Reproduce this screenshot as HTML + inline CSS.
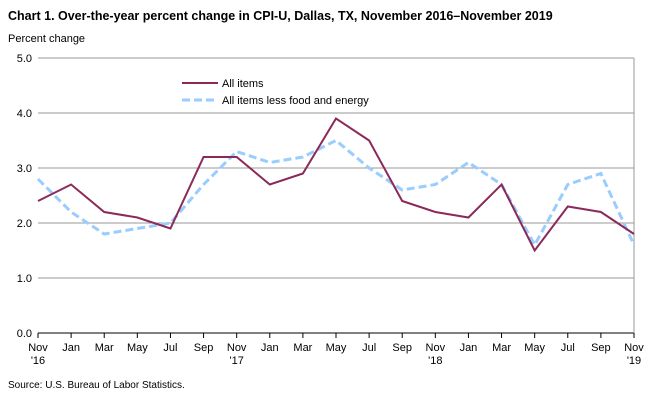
<!DOCTYPE html>
<html><head><meta charset="utf-8"><style>
body{margin:0;background:#fff;font-family:"Liberation Sans",Arial,sans-serif;}
svg text{font-family:"Liberation Sans",Arial,sans-serif;}
</style></head><body>
<svg id="chart" width="653" height="400" xmlns="http://www.w3.org/2000/svg">
<text x="8" y="20" font-size="12.5" font-weight="bold" fill="#000">Chart 1. Over-the-year percent change in CPI-U, Dallas, TX, November 2016–November 2019</text>
<text x="8" y="42" font-size="11" fill="#000">Percent change</text>
<g id="grid"></g><g id="axes"></g><g id="series"></g>
<g>
<line x1="182" y1="83" x2="218" y2="83" stroke="#8B2A5A" stroke-width="2"/>
<text x="222" y="87" font-size="11">All items</text>
<line x1="182" y1="100" x2="218" y2="100" stroke="#99CCFF" stroke-width="3" stroke-dasharray="8,4"/>
<text x="222" y="104" font-size="11">All items less food and energy</text>
</g>
<text x="8" y="388" font-size="10">Source: U.S. Bureau of Labor Statistics.</text>
</svg>
<script>
const months=["Nov","Jan","Mar","May","Jul","Sep","Nov","Jan","Mar","May","Jul","Sep","Nov","Jan","Mar","May","Jul","Sep","Nov"];
const years=["'16","","","","","","'17","","","","","","'18","","","","","","'19"];
const allItems=[2.4,2.7,2.2,2.1,1.9,3.2,3.2,2.7,2.9,3.9,3.5,2.4,2.2,2.1,2.7,1.5,2.3,2.2,1.8];
const core=[2.8,2.2,1.8,1.9,2.0,2.7,3.3,3.1,3.2,3.5,3.0,2.6,2.7,3.1,2.7,1.6,2.7,2.9,1.6];
const yTicks=[0,1,2,3,4,5];
const NS="http://www.w3.org/2000/svg";
const X0=38,X1=634,Y0=333,Y1=58,YMAX=5;
const x=i=>X0+(X1-X0)*i/(months.length-1);
const y=v=>Y0-(Y0-Y1)*v/YMAX;
function mk(t,a,p){const e=document.createElementNS(NS,t);for(const k in a)e.setAttribute(k,a[k]);p.appendChild(e);return e;}
const grid=document.getElementById('grid'),axes=document.getElementById('axes'),ser=document.getElementById('series');
yTicks.forEach(v=>{
 const l=mk('line',{x1:X0,x2:X1,y1:y(v),y2:y(v),stroke:v===0?'#000':'#999','stroke-width':1},grid);
 
 
 const t=mk('text',{x:X0-6,y:y(v)+4,'font-size':11,'text-anchor':'end'},axes);
 t.textContent=v.toFixed(1);
 
 
});
const ra=mk('line',{x1:X1,x2:X1,y1:Y1,y2:Y0,stroke:'#999'},grid);


months.forEach((m,i)=>{
 const tk=mk('line',{x1:x(i),x2:x(i),y1:Y0,y2:Y0+5,stroke:'#000'},axes);
 
 
 const t=mk('text',{x:x(i),y:Y0+18,'font-size':11,'text-anchor':'middle'},axes);
 t.textContent=m;
 
 
 if(years[i]){const t2=mk('text',{x:x(i),y:Y0+31,'font-size':11,'text-anchor':'middle'},axes);
 t2.textContent=years[i];
 
 }
});
const pts=a=>a.map((v,i)=>x(i)+','+y(v)).join(' ');
const c=mk('polyline',{points:pts(core),fill:'none',stroke:'#99CCFF','stroke-width':3,'stroke-dasharray':'8,4'},ser);


const a=mk('polyline',{points:pts(allItems),fill:'none',stroke:'#8B2A5A','stroke-width':2},ser);


</script>
</body></html>
